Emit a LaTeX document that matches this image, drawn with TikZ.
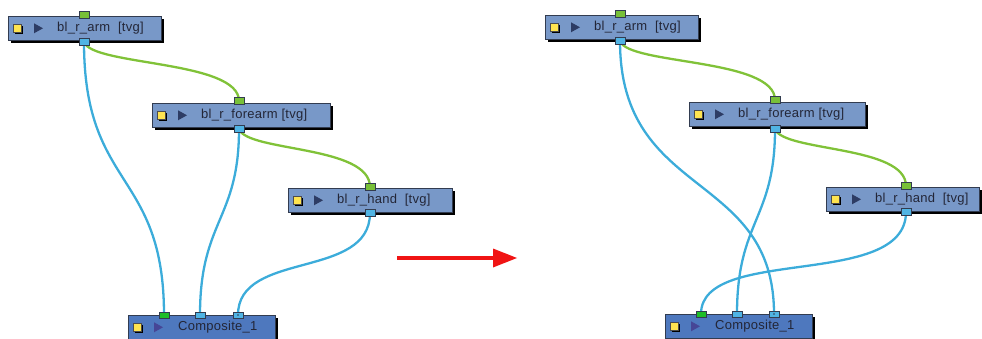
\documentclass[tikz,border=0pt]{standalone}
\usepackage{fontspec}
\setmainfont{Liberation Sans}[LetterSpace=2]
\usetikzlibrary{shadows,calc}
\definecolor{nodefill}{RGB}{120,152,200}
\definecolor{compfill}{RGB}{78,120,190}
\definecolor{nodeedge}{RGB}{50,60,80}
\definecolor{cableblue}{RGB}{60,172,218}
\definecolor{cablegreen}{RGB}{128,194,56}
\definecolor{portblue}{RGB}{80,180,228}
\definecolor{portgreen}{RGB}{120,192,56}
\definecolor{compgreen}{RGB}{30,190,40}
\definecolor{yelfill}{RGB}{255,228,80}
\definecolor{tri}{RGB}{45,60,100}
\definecolor{tricomp}{RGB}{70,70,150}
\definecolor{txt}{RGB}{35,38,55}
\definecolor{arrowred}{RGB}{240,20,20}
\tikzset{
  x=1pt,y=-1pt,
  nodebox/.style={draw=nodeedge, line width=0.6pt, fill=nodefill, anchor=north west, minimum height=24pt, inner sep=0pt,
    drop shadow={shadow xshift=3pt, shadow yshift=-3pt, fill=black, opacity=1}},
  compbox/.style={nodebox, fill=compfill},
  label/.style={anchor=west, font=\fontsize{13}{14}\selectfont, text=txt, inner sep=0pt},
  complabel/.style={label, text=txt},
  yel/.style={draw=black!70, line width=0.3pt, fill=yelfill, minimum size=8.5pt, inner sep=0pt,
    drop shadow={shadow xshift=1.8pt, shadow yshift=-1.8pt, fill=black, opacity=1}},
  portb/.style={draw=nodeedge, line width=0.5pt, fill=portblue, minimum width=10pt, minimum height=6.5pt, inner sep=0pt},
  portg/.style={portb, fill=portgreen},
  portcg/.style={portb, fill=compgreen},
  blue cable/.style={draw=cableblue, line width=2.3pt},
  green cable/.style={draw=cablegreen, line width=2.3pt},
}
\begin{document}
\begin{tikzpicture}
\useasboundingbox (0,0) rectangle (982,339);
% ---------- left diagram ----------
\node[nodebox, minimum width=153pt] (armL) at (8,16) {};
\node[nodebox, minimum width=178pt] (foreL) at (152,103) {};
\node[nodebox, minimum width=164pt] (handL) at (288,188) {};
\node[compbox, minimum width=147pt] (compL) at (128,315) {};
% ---------- right diagram ----------
\node[nodebox, minimum width=153pt] (armR) at (545,15) {};
\node[nodebox, minimum width=176pt] (foreR) at (689,102) {};
\node[nodebox, minimum width=153pt] (handR) at (826,187) {};
\node[compbox, minimum width=147pt] (compR) at (665,314) {};

% labels and icons
\foreach \n/\t in {armL/{bl\_r\_arm\ \ [tvg]}, foreL/{bl\_r\_forearm\ [tvg]}, handL/{bl\_r\_hand\ \ [tvg]},
                   armR/{bl\_r\_arm\ \ [tvg]}, foreR/{bl\_r\_forearm [tvg]}, handR/{bl\_r\_hand\ \ [tvg]}}{
  \node[label] (\n-text) at ($(\n.west)+(49,0)$) {\t};
  \node[yel] (\n-icon) at ($(\n.west)+(9,0)$) {};
  \fill[tri] ($(\n.west)+(26,-5)$) -- ++(9,5) -- ++(-9,5) -- cycle;
}
\foreach \n in {compL,compR}{
  \node[complabel] (\n-text) at ($(\n.west)+(50,0)$) {Composite\_1};
  \node[yel] (\n-icon) at ($(\n.west)+(9,0)$) {};
  \fill[tricomp] ($(\n.west)+(26,-5)$) -- ++(9,5) -- ++(-9,5) -- cycle;
}

% ---------- port positions ----------
\coordinate (aLo) at (84,42); \coordinate (aLi) at (84,15);
\coordinate (fLi) at (239,101); \coordinate (fLo) at (239,129);
\coordinate (hLi) at (370,187); \coordinate (hLo) at (370,213);
\coordinate (cL1) at (164,315); \coordinate (cL2) at (200,315); \coordinate (cL3) at (238,315);
\coordinate (aRo) at (620,41); \coordinate (aRi) at (620,14);
\coordinate (fRi) at (775,100); \coordinate (fRo) at (775,129);
\coordinate (hRi) at (906,186); \coordinate (hRo) at (906,212);
\coordinate (cR1) at (701,314); \coordinate (cR2) at (737,314); \coordinate (cR3) at (774,314);

% ---------- cables ----------
\path[blue cable] (aLo) .. controls (84,190) and (164,170) .. (cL1);
\path[blue cable] (fLo) .. controls (239,220) and (200,220) .. (cL2);
\path[blue cable] (hLo) .. controls (370,280) and (238,250) .. (cL3);
\path[green cable] (aLo) .. controls (92,66) and (239,60) .. (fLi);
\path[green cable] (fLo) .. controls (247,152) and (370,145) .. (hLi);

\path[blue cable] (aRo) .. controls (620,200) and (774,170) .. (cR3);
\path[blue cable] (fRo) .. controls (775,220) and (737,220) .. (cR2);
\path[blue cable] (hRo) .. controls (906,290) and (701,245) .. (cR1);
\path[green cable] (aRo) .. controls (628,65) and (775,58) .. (fRi);
\path[green cable] (fRo) .. controls (783,152) and (906,145) .. (hRi);

% ---------- ports ----------
\foreach \c/\s in {aLi/portg, aLo/portb, fLi/portg, fLo/portb, hLi/portg, hLo/portb,
                   aRi/portg, aRo/portb, fRi/portg, fRo/portb, hRi/portg, hRo/portb,
                   cL1/portcg, cL2/portb, cL3/portb, cR1/portcg, cR2/portb, cR3/portb}{
  \node[\s] (p-\c) at (\c) {};
}
\fill[nodeedge] (p-cL3.center) circle (0.9pt);
\fill[nodeedge] (p-cR3.center) circle (0.9pt);

% ---------- red arrow ----------
\coordinate (arrS) at (397,258);
\coordinate (arrE) at (517,258);
\draw[arrowred, line width=3.8pt] (arrS) -- (494,258);
\fill[arrowred] (arrE) -- (493,248.5) -- (493,267.5) -- cycle;
\end{tikzpicture}
\end{document}
